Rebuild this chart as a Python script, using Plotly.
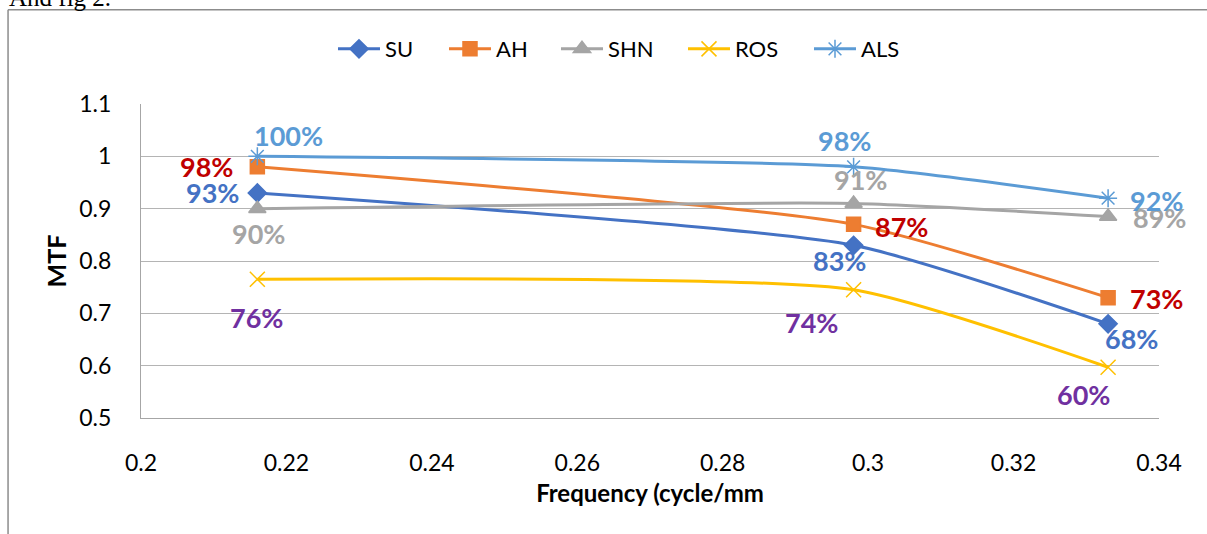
import plotly.graph_objects as go

# ---- data ----
freq = [0.216, 0.298, 0.333]
series_names = ["SU", "AH", "SHN", "ROS", "ALS"]
su = [0.93, 0.83, 0.68]
ah = [0.98, 0.87, 0.73]
shn = [0.90, 0.91, 0.885]
ros = [0.765, 0.745, 0.597]
als = [1.00, 0.98, 0.92]
su_labels = ["93%", "83%", "68%"]
ah_labels = ["98%", "87%", "73%"]
shn_labels = ["90%", "91%", "89%"]
ros_labels = ["76%", "74%", "60%"]
als_labels = ["100%", "98%", "92%"]

FONT = "Lato"

values = [su, ah, shn, ros, als]
labels = [su_labels, ah_labels, shn_labels, ros_labels, als_labels]
line_colors = ["#4472C4", "#ED7D31", "#A5A5A5", "#FFC000", "#5B9BD5"]
label_colors = ["#4472C4", "#C00000", "#A5A5A5", "#7030A0", "#5B9BD5"]
symbols = ["diamond", "square", "triangle-up", "x-thin-open", "asterisk-open"]
msizes = [14, 14, 15, 15, 15]
legend_widths = [54, 55, 70, 69, 40]
# pixel offsets of each data label relative to its point
shifts = [
    [(-45, 0), (-14, -15), (23, -15)],
    [(-51, 0), (48, -2), (48, -1)],
    [(1, -25), (7, 24), (51, -1)],
    [(-1, -38), (-42, -33), (-25, -27)],
    [(31, 21), (-9, 26), (48, -2)],
]

fig = go.Figure()
for name, ys, col, sym, ms, lw in zip(series_names, values, line_colors, symbols, msizes, legend_widths):
    fig.add_trace(go.Scatter(
        x=freq, y=ys, name=name, mode="lines+markers",
        line=dict(color=col, width=3, shape="spline", smoothing=0.55),
        marker=dict(symbol=sym, size=ms, color=col,
                    line=dict(color=col, width=1.5)),
        legendwidth=lw,
    ))

annotations = []
for ys, labs, col, sh in zip(values, labels, label_colors, shifts):
    for xv, yv, t, (dx, dy) in zip(freq, ys, labs, sh):
        annotations.append(dict(
            x=xv, y=yv, xref="x", yref="y", text=t, showarrow=False,
            xshift=dx, yshift=dy,
            font=dict(family=FONT, size=27, color=col, weight="bold"),
        ))

# text above the chart frame (cut off at the top of the page)
annotations.append(dict(
    x=-0.132, y=1.289, xref="paper", yref="paper", xanchor="left", yanchor="bottom",
    text="And fig 2.", showarrow=False,
    font=dict(family="Liberation Serif", size=25, color="#000000"),
))

shapes = [
    dict(type="line", xref="paper", yref="paper", x0=-0.1306, x1=1.1, y0=1.3, y1=1.3,
         line=dict(color="#8C8C8C", width=1.5)),
    dict(type="line", xref="paper", yref="paper", x0=-0.1306, x1=-0.1306, y0=1.3, y1=-0.5,
         line=dict(color="#8C8C8C", width=1.5)),
]

fig.update_layout(
    width=1207, height=534,
    margin=dict(l=141, r=48, t=104, b=116, autoexpand=False),
    paper_bgcolor="white", plot_bgcolor="white",
    font=dict(family=FONT, color="#000000"),
    showlegend=True,
    legend=dict(orientation="h", x=0.1886, xanchor="left", y=1.175, yanchor="middle",
                font=dict(family=FONT, size=22, color="#000000"),
                itemwidth=42, bgcolor="rgba(0,0,0,0)"),
    annotations=annotations,
    shapes=shapes,
)
fig.update_xaxes(
    range=[0.2, 0.34], dtick=0.02, tick0=0.2,
    showgrid=False, zeroline=False,
    showline=True, linecolor="#A6A6A6", linewidth=1.3,
    ticks="", ticklabelstandoff=24,
    tickfont=dict(family=FONT, size=23, color="#000000"),
    title=dict(text="Frequency (cycle/mm", standoff=10,
               font=dict(family=FONT, size=24, color="#000000", weight="bold")),
    automargin=False,
)
fig.update_yaxes(
    range=[0.5, 1.1], dtick=0.1, tick0=0.5,
    showgrid=True, gridcolor="#B4B4B4", gridwidth=1.3,
    zeroline=False,
    showline=True, linecolor="#A6A6A6", linewidth=1.3,
    ticks="", ticklabelstandoff=24,
    tickfont=dict(family=FONT, size=23, color="#000000"),
    title=dict(text="MTF", standoff=5,
               font=dict(family=FONT, size=25, color="#000000", weight="bold")),
    automargin=False,
)

fig.write_html("out.html")
